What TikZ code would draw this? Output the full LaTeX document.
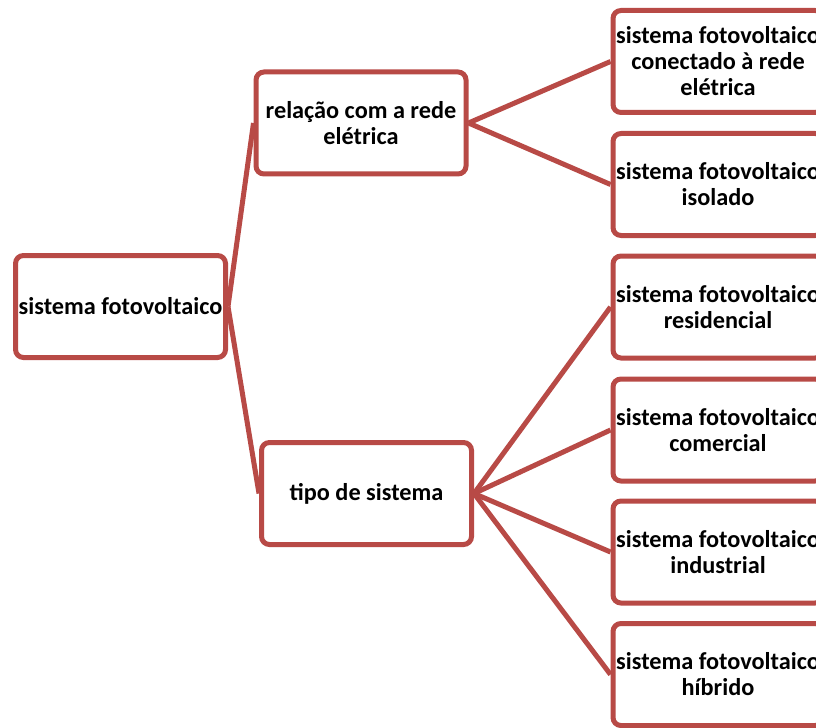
\documentclass[tikz,border=0pt]{standalone}
\usepackage{fontspec}
\setmainfont{Carlito}
\definecolor{boxred}{RGB}{184,74,70}

\begin{document}
\begin{tikzpicture}[x=0.75pt, y=-0.75pt,
    box/.style={draw=boxred, line width=3.75pt, rounded corners=6pt, fill=white,
        minimum width=157.5pt, minimum height=76.5pt, inner sep=1pt,
        align=center, font=\fontsize{18.2}{19.5}\selectfont\bfseries},
    link/.style={draw=boxred, line width=3.75pt}]

% Frame
\useasboundingbox (0,0) rectangle (816,727);
\clip (0,0) rectangle (816,727);

% Boxes
\node[box] (root) at (120.5,306.5) {sistema fotovoltaico};
\node[box] (rede) at (361,123) {relação com a rede\\elétrica};
\node[box] (tipo) at (366.5,493.5) {tipo de sistema};

\node[box] (conectado) at (718,61.5) {sistema fotovoltaico\\conectado à rede\\elétrica};
\node[box] (isolado) at (718,184.5) {sistema fotovoltaico\\isolado};
\node[box] (residencial) at (718,307) {sistema fotovoltaico\\residencial};
\node[box] (comercial) at (718,430) {sistema fotovoltaico\\comercial};
\node[box] (industrial) at (718,552) {sistema fotovoltaico\\industrial};
\node[box] (hibrido) at (718,674.5) {sistema fotovoltaico\\híbrido};

% Connectors
\draw[link] (root.east) -- (rede.west);
\draw[link] (root.east) -- (tipo.west);

\foreach \leaf in {conectado, isolado}
    \draw[link] (rede.east) -- (\leaf.west);

\foreach \leaf in {residencial, comercial, industrial, hibrido}
    \draw[link] (tipo.east) -- (\leaf.west);

\end{tikzpicture}
\end{document}
